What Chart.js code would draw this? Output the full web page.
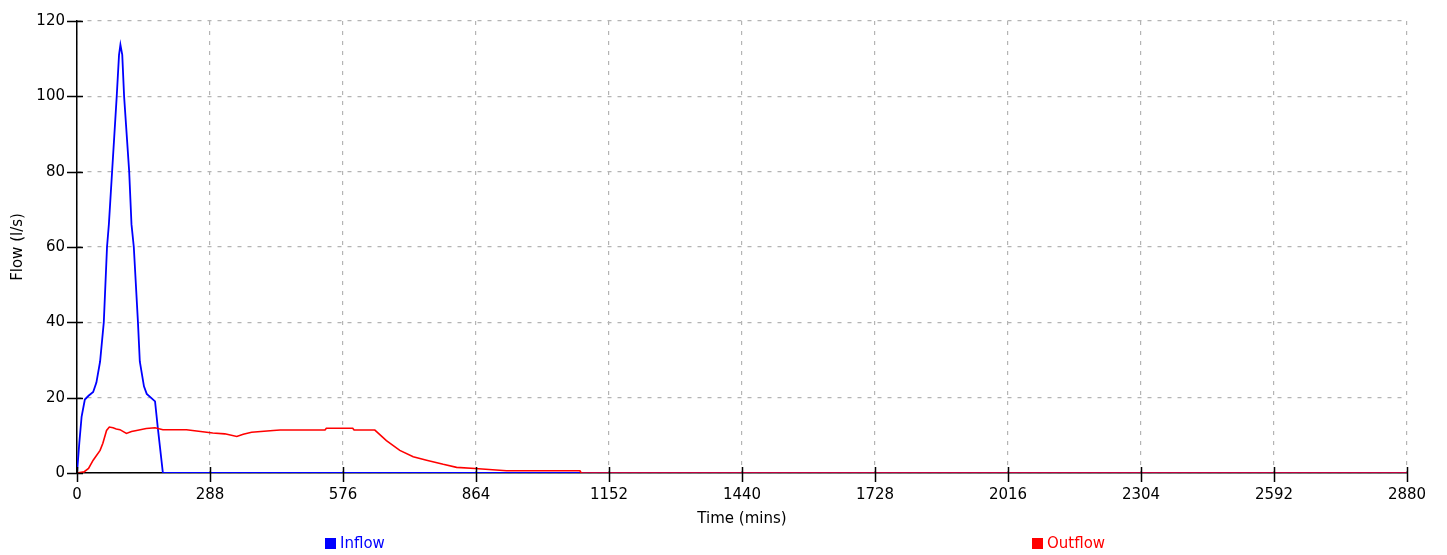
<!DOCTYPE html>
<html>
<head>
<meta charset="utf-8">
<title>Inflow / Outflow hydrograph</title>
<script src="https://cdn.jsdelivr.net/npm/chart.js@4/dist/chart.umd.min.js"></script>
<style>
  html, body { margin: 0; padding: 0; background: #fff; }
  #wrap { position: relative; width: 1447px; height: 555px; }
  #legend { position: absolute; left: 0; top: 0; width: 1447px; height: 555px; pointer-events: none;
            font-family: "DejaVu Sans", sans-serif; font-size: 15px; }
  .item { position: absolute; top: 534px; height: 18px; line-height: 18px; white-space: nowrap; }
  .box { display: inline-block; width: 11px; height: 11px; vertical-align: -1px; margin-right: 4px; }
</style>
</head>
<body>
<div id="wrap">
  <canvas id="c" width="1447" height="555"></canvas>
  <div id="legend"></div>
</div>
<script>
// Hydrograph data (time in minutes, flow in l/s)
const inflowTime = [0, 5, 10, 17, 25, 35, 42, 50, 58, 65, 69, 76, 86, 91, 94, 98, 102, 113, 118, 123, 132, 136, 145, 151, 160, 169, 175, 186, 2880];
const inflowFlow = [0, 8, 15, 19.5, 20.5, 21.5, 24, 29.6, 40, 60, 66, 80, 100, 111, 113.7, 111, 100, 80, 66, 60, 40, 29.6, 23, 21, 20, 19, 12, 0, 0];

const outflowTime = [0, 15, 25, 35, 50, 56, 64, 70, 78, 85, 93, 107, 118, 129, 150, 169, 186, 237, 294, 320, 346, 360, 378, 425, 440, 537, 540, 597, 600, 645, 670, 699, 728, 757, 793, 822, 862, 930, 1089, 1092, 2880];
const outflowFlow = [0, 0.3, 1.2, 3.4, 6, 7.9, 11.3, 12.2, 12, 11.7, 11.5, 10.5, 11, 11.3, 11.8, 12, 11.5, 11.5, 10.6, 10.4, 9.7, 10.3, 10.8, 11.3, 11.4, 11.4, 11.9, 11.9, 11.4, 11.4, 8.6, 6, 4.3, 3.4, 2.3, 1.5, 1.2, 0.6, 0.6, 0, 0];

const seriesNames = ['Inflow', 'Outflow'];
const seriesColors = ['#0000ff', '#ff0000'];

const xMax = 2880, xStep = 288;
const yMax = 120, yStep = 20;
const xTitle = 'Time (mins)';
const yTitle = 'Flow (l/s)';

const FONT = '"DejaVu Sans", sans-serif';

function toPoints(xs, ys) { return xs.map((x, i) => ({ x: x, y: ys[i] })); }

// Black tick marks that cross both axes
const crossTicks = {
  id: 'crossTicks',
  afterDraw(chart) {
    const { ctx, chartArea, scales } = chart;
    ctx.save();
    ctx.strokeStyle = '#000';
    ctx.lineWidth = 1.5;
    ctx.setLineDash([]);
    ctx.beginPath();
    scales.x.ticks.forEach(t => {
      const px = Math.round(scales.x.getPixelForValue(t.value)) + 0.5;
      ctx.moveTo(px, chartArea.bottom - 6);
      ctx.lineTo(px, chartArea.bottom + 9);
    });
    scales.y.ticks.forEach(t => {
      const py = Math.round(scales.y.getPixelForValue(t.value)) + 0.5;
      ctx.moveTo(chartArea.left - 10, py);
      ctx.lineTo(chartArea.left + 6, py);
    });
    ctx.stroke();
    ctx.restore();
  }
};

const datasets = [
  { label: seriesNames[0], data: toPoints(inflowTime, inflowFlow), borderColor: seriesColors[0], backgroundColor: seriesColors[0], order: 1, borderWidth: 1.8 },
  { label: seriesNames[1], data: toPoints(outflowTime, outflowFlow), borderColor: seriesColors[1], backgroundColor: seriesColors[1], order: 0, borderWidth: 1.6 }
].map(d => Object.assign(d, { pointRadius: 0, tension: 0, fill: false }));

const plainNumber = v => String(v);

const chart = new Chart(document.getElementById('c'), {
  type: 'line',
  data: { datasets },
  plugins: [crossTicks],
  options: {
    responsive: false,
    animation: false,
    devicePixelRatio: 1,
    layout: { padding: { top: 15, right: 40, left: 0, bottom: 0 } },
    plugins: { legend: { display: false }, tooltip: { enabled: false } },
    scales: {
      x: {
        type: 'linear', min: 0, max: xMax,
        ticks: { stepSize: xStep, color: '#000', padding: 13, font: { family: FONT, size: 15 }, maxRotation: 0, callback: plainNumber },
        grid: { color: '#b4b4b4', lineWidth: 1.2, drawTicks: false },
        border: { display: true, color: '#000', width: 1.5, dash: [4, 6] },
        title: { display: true, text: xTitle, color: '#000', font: { family: FONT, size: 15 }, padding: { top: 0, bottom: 27 } },
        afterFit(s) { s.height = 82; }
      },
      y: {
        type: 'linear', min: 0, max: yMax,
        ticks: { stepSize: yStep, color: '#000', padding: 12, font: { family: FONT, size: 15 }, callback: plainNumber },
        grid: { color: '#b4b4b4', lineWidth: 1.2, drawTicks: false },
        border: { display: true, color: '#000', width: 1.5, dash: [4, 6] },
        title: { display: true, text: yTitle, color: '#000', font: { family: FONT, size: 15 }, padding: { top: 9, bottom: 0 } },
        afterFit(s) { s.width = 77; }
      }
    }
  }
});

// Legend laid out under the plot
const legendPos = [325, 1032];
const legend = document.getElementById('legend');
chart.data.datasets.forEach((d, i) => {
  const item = document.createElement('div');
  item.className = 'item';
  item.style.left = legendPos[i] + 'px';
  item.style.color = d.borderColor;
  const box = document.createElement('span');
  box.className = 'box';
  box.style.background = d.borderColor;
  item.appendChild(box);
  item.appendChild(document.createTextNode(d.label));
  legend.appendChild(item);
});
</script>
</body>
</html>
